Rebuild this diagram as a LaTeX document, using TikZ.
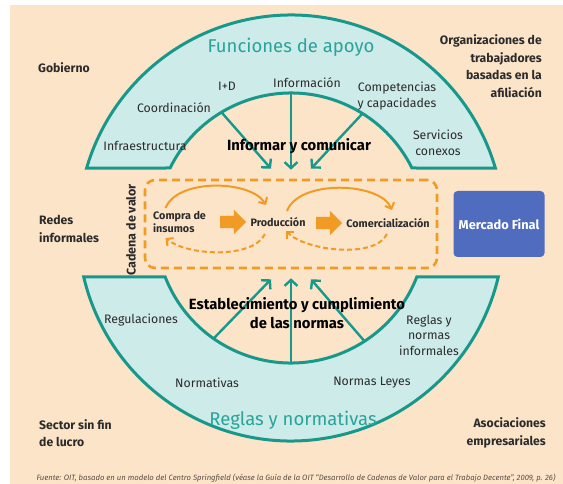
\documentclass[tikz,border=0pt]{standalone}
\usepackage{fontspec}
\setmainfont{Fira Sans}
\usepackage{tikz}
\usetikzlibrary{arrows.meta,positioning,shapes.arrows,calc}
\definecolor{peach}{HTML}{FCE4C9}
\definecolor{ringfill}{HTML}{CCEBE9}
\definecolor{ringline}{HTML}{17988B}
\definecolor{headteal}{HTML}{2AA39A}
\definecolor{chainorange}{HTML}{F29B24}
\definecolor{marketblue}{HTML}{4F6CBE}
\definecolor{darktext}{HTML}{2B2B2B}
\definecolor{footgray}{HTML}{5A4E44}

\begin{document}
\begin{tikzpicture}[x=1pt, y=-1pt,
  ring/.style={fill=ringfill, draw=ringline, line width=3pt},
  spoke/.style={draw=ringline, line width=2.4pt,
                -{Straight Barb[length=6pt,width=13pt]}},
  ringlabel/.style={font=\fontsize{12.3}{15.5}\selectfont, text=darktext,
                    align=center, inner sep=1pt},
  heading/.style={font=\fontsize{18.5}{20}\selectfont, text=headteal},
  core/.style={font=\fontsize{14.8}{19}\selectfont\bfseries, text=black,
               align=center, inner sep=1pt},
  actor/.style={font=\fontsize{12.2}{17.5}\selectfont\bfseries, text=darktext,
                inner sep=0pt},
  stage/.style={font=\fontsize{10.8}{13.5}\selectfont\bfseries, text=darktext,
                align=left, inner sep=1pt},
  chain/.style={rectangle, rounded corners=10pt, draw=chainorange,
                line width=2.6pt, dash pattern=on 8pt off 5pt,
                minimum width=292pt, minimum height=88pt},
  flow/.style={chainorange, line width=2pt,
               -{Straight Barb[length=5pt,width=10pt]}},
  backflow/.style={flow, dash pattern=on 5pt off 3pt},
  blockarrow/.style={single arrow, fill=chainorange, inner xsep=0pt,
                     inner ysep=6pt, minimum height=26pt,
                     single arrow head extend=6pt},
  market/.style={rectangle, rounded corners=4pt, fill=marketblue,
                 minimum width=91pt, minimum height=66pt, text=white,
                 font=\fontsize{12.8}{14}\selectfont\bfseries},
]
  \useasboundingbox (0,0) rectangle (563,484);
  \fill[peach] (10,5) rectangle (563,484);

  \coordinate (c) at (291,228);
  \def\Rout{213}
  \def\Rin{135}

  % upper band: support functions
  \filldraw[ring] ($(c)+(-16.36:\Rout)$) arc[start angle=-16.36, end angle=-163.64, radius=\Rout]
    -- ($(c)+(-153.61:\Rin)$) arc[start angle=-153.61, end angle=-26.39, radius=\Rin] -- cycle;
  % lower band: rules and norms
  \filldraw[ring] ($(c)+(166.70:\Rout)$) arc[start angle=166.70, end angle=13.30, radius=\Rout]
    -- ($(c)+(21.28:\Rin)$) arc[start angle=21.28, end angle=158.72, radius=\Rin] -- cycle;

  \foreach \a/\n in {-121/tl,-90/tm,-58/tr,125/bl,90/bm,57/br}
    \coordinate (\n) at ($(c)+(\a:\Rin)$);

  % value chain
  \node[chain] (valor) at (291,224) {};
  \node[font=\fontsize{12.5}{13}\selectfont\bfseries, text=darktext, rotate=90] (cadena) at (131,230) {Cadena de valor};

  \draw[spoke] (tl) -- ($(valor.north)+(-20,-10)$);
  \draw[spoke] (tm) -- ($(valor.north)+(0,-9)$);
  \draw[spoke] (tr) -- ($(valor.north)+(20,-10)$);
  \draw[spoke] (bl) -- ($(valor.south)+(-20,10)$);
  \draw[spoke] (bm) -- ($(valor.south)+(0,9)$);
  \draw[spoke] (br) -- ($(valor.south)+(20,10)$);

  \node[stage, anchor=west] (compra) at (152,222) {Compra de\\insumos};
  \node[stage] (prod) at (278,222) {Producción};
  \node[stage] (comer) at (388,223) {Comercialización};
  \node[blockarrow] (a1) at (230,222) {};
  \node[blockarrow] (a2) at (326,223) {};
  \node[market, right=15pt of valor] (mercado) {Mercado Final};

  \draw[flow] ($(compra)+(-14,-14)$) .. controls +(12,-30) and +(-15,-25) .. ($(prod)+(-12,-17)$);
  \draw[flow] ($(prod)+(9,-11)$) .. controls +(12,-32) and +(-12,-28) .. ($(comer)+(4,-13)$);
  \draw[backflow] ($(prod)+(-13,12)$) .. controls +(-12,25) and +(22,18) .. ($(compra)+(-14,16)$);
  \draw[backflow] ($(comer)+(-1,11)$) .. controls +(-12,25) and +(20,20) .. ($(prod)+(8,9)$);

  % labels in the bands
  \node[heading] (apoyo) at (291,47) {Funciones de apoyo};
  \node[ringlabel] (iyd) at (227,86) {I+D};
  \node[ringlabel] (info) at (307,83) {Información};
  \node[ringlabel] (compet) at (397,96) {Competencias\\y capacidades};
  \node[ringlabel] (coord) at (174,108) {Coordinación};
  \node[ringlabel] (infra) at (145,146) {Infraestructura};
  \node[ringlabel] (servicios) at (438,143) {Servicios\\conexos};
  \node[core] (informar) at (299,146) {Informar y comunicar};

  \node[core] (normas) at (297,313) {Establecimiento y cumplimiento\\de las normas};
  \node[ringlabel] (regul) at (141,320) {Regulaciones};
  \node[ringlabel] (reglasinf) at (429,335) {Reglas y\\normas\\informales};
  \node[ringlabel] (normativas) at (207,383) {Normativas};
  \node[ringlabel] (leyes) at (372,383) {Normas Leyes};
  \node[heading] (reglas) at (293,420) {Reglas y normativas};

  % actors around the chain
  \node[actor, anchor=west] (gobierno) at (38,68) {Gobierno};
  \node[actor, anchor=east, align=right] (org) at (542,66) {Organizaciones de\\trabajadores\\basadas en la\\afiliación};
  \node[actor, anchor=west, align=left] (redes) at (39,229) {Redes\\informales};
  \node[actor, anchor=west, align=left] (sector) at (39,433) {Sector sin fin\\de lucro};
  \node[actor, anchor=east, align=right] (asoc) at (546,433) {Asociaciones\\empresariales};

  \node[font=\fontsize{7.7}{8}\selectfont\itshape, text=footgray] (fuente) at (296,478) {Fuente: OIT, basado en un modelo del Centro Springfield (véase la Guía de la OIT “Desarrollo de Cadenas de Valor para el Trabajo Decente”, 2009, p. 26)};
\end{tikzpicture}
\end{document}
